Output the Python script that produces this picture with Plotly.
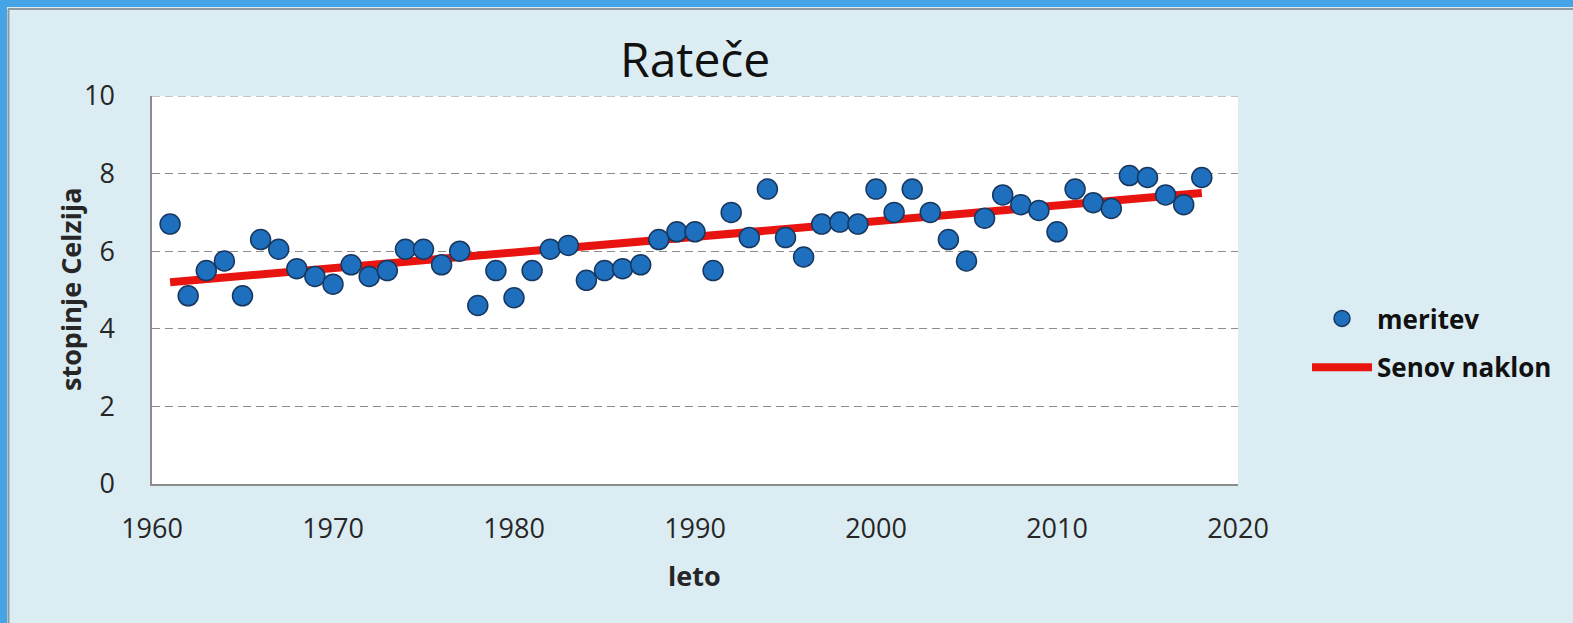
import plotly.graph_objects as go

# ---- data ----
years = list(range(1961, 2019))
temps = [6.7, 4.85, 5.5, 5.75, 4.85, 6.3, 6.05, 5.55, 5.35, 5.15,
         5.65, 5.35, 5.5, 6.05, 6.05, 5.65, 6.0, 4.6, 5.5, 4.8,
         5.5, 6.05, 6.15, 5.25, 5.5, 5.55, 5.65, 6.3, 6.5, 6.5,
         5.5, 7.0, 6.35, 7.6, 6.35, 5.85, 6.7, 6.75, 6.7, 7.6,
         7.0, 7.6, 7.0, 6.3, 5.75, 6.85, 7.45, 7.2, 7.05, 6.5,
         7.6, 7.25, 7.1, 7.95, 7.9, 7.45, 7.2, 7.9]
trend_years = [1961, 2018]
trend_values = [5.2, 7.5]
x_ticks = [1960, 1970, 1980, 1990, 2000, 2010, 2020]
y_ticks = [0, 2, 4, 6, 8, 10]

title_text = "Rateče"
x_title = "leto"
y_title = "stopinje Celzija"
series_names = ["meritev", "Senov naklon"]

# ---- layout geometry (pixels) ----
W, H = 1573, 623
L, R, T, B = 152, 1238, 96, 484
PW, PH = R - L, B - T


def px(p):
    return (p - L) / PW


def py(p):
    return (B - p) / PH


FONT = "Open Sans"
TXT = "#262626"
GRID = "#8c8c8c"

fig = go.Figure()
fig.add_trace(go.Scatter(
    x=trend_years, y=trend_values, mode="lines", name=series_names[1],
    line=dict(color="#e8140f", width=8), legendrank=2, legendgroup="b",
))
fig.add_trace(go.Scatter(
    x=years, y=temps, mode="markers", name=series_names[0],
    marker=dict(size=20, color="#1f6fbf", line=dict(color="#17375e", width=1.5)),
    legendrank=1, legendgroup="a",
))

shapes = [
    # blue outer frame (top and left)
    dict(type="rect", xref="paper", yref="paper", x0=px(0), x1=px(W), y0=py(0), y1=py(7),
         fillcolor="#46a3e6", line=dict(width=0), layer="below"),
    dict(type="rect", xref="paper", yref="paper", x0=px(0), x1=px(7), y0=py(0), y1=py(H),
         fillcolor="#46a3e6", line=dict(width=0), layer="below"),
    # thin gray panel border
    dict(type="line", xref="paper", yref="paper", x0=px(8), x1=px(W), y0=py(9), y1=py(9),
         line=dict(color="#8f9aa0", width=2), layer="below"),
    dict(type="line", xref="paper", yref="paper", x0=px(8.5), x1=px(8.5), y0=py(9), y1=py(H),
         line=dict(color="#8f9aa0", width=2), layer="below"),
    # top gridline at the upper range edge
    dict(type="line", xref="paper", yref="y", x0=0, x1=1, y0=y_ticks[-1], y1=y_ticks[-1],
         line=dict(color=GRID, width=1.2, dash="8px,5px"), layer="above"),
]

annotations = [
    dict(text=title_text, xref="paper", yref="paper", x=px(695), y=py(59),
         xanchor="center", yanchor="middle", showarrow=False,
         font=dict(family=FONT, size=48, color="#111111")),
    dict(text="<b>" + x_title + "</b>", xref="paper", yref="paper", x=px(694), y=py(575),
         xanchor="center", yanchor="middle", showarrow=False,
         font=dict(family=FONT, size=27, color=TXT)),
    dict(text="<b>" + y_title + "</b>", xref="paper", yref="paper", x=px(70), y=py(289),
         xanchor="center", yanchor="middle", showarrow=False, textangle=-90,
         font=dict(family=FONT, size=27, color=TXT)),
]

fig.update_layout(
    width=W, height=H,
    margin=dict(l=L, r=W - R, t=T, b=H - B, pad=0),
    paper_bgcolor="#dbecf3",
    plot_bgcolor="#ffffff",
    font=dict(family=FONT, color=TXT),
    shapes=shapes,
    annotations=annotations,
    showlegend=True,
    legend=dict(
        x=px(1307), y=py(343), xanchor="left", yanchor="middle",
        bgcolor="rgba(0,0,0,0)", font=dict(family=FONT, size=26, color="#111111", weight="bold"),
        tracegroupgap=12, traceorder="grouped", itemwidth=60,
    ),
    xaxis=dict(
        range=[x_ticks[0], x_ticks[-1]], tickvals=x_ticks, showgrid=False, zeroline=False,
        showline=True, linecolor="#8c8c8c", linewidth=1.5, ticks="",
        tickfont=dict(family=FONT, size=27, color=TXT), ticklabelstandoff=20,
    ),
    yaxis=dict(
        range=[y_ticks[0], y_ticks[-1]], tickvals=y_ticks, showgrid=True,
        gridcolor=GRID, griddash="8px,5px", gridwidth=1.2, zeroline=False,
        showline=True, linecolor="#8c8c8c", linewidth=1.5, ticks="",
        tickfont=dict(family=FONT, size=27, color=TXT), ticklabelstandoff=30,
    ),
)

fig.write_html(
    "out.html",
    config={"displayModeBar": False},
    post_script="document.body.style.margin='0';document.body.style.padding='0';"
                "document.body.style.overflow='hidden';",
)
